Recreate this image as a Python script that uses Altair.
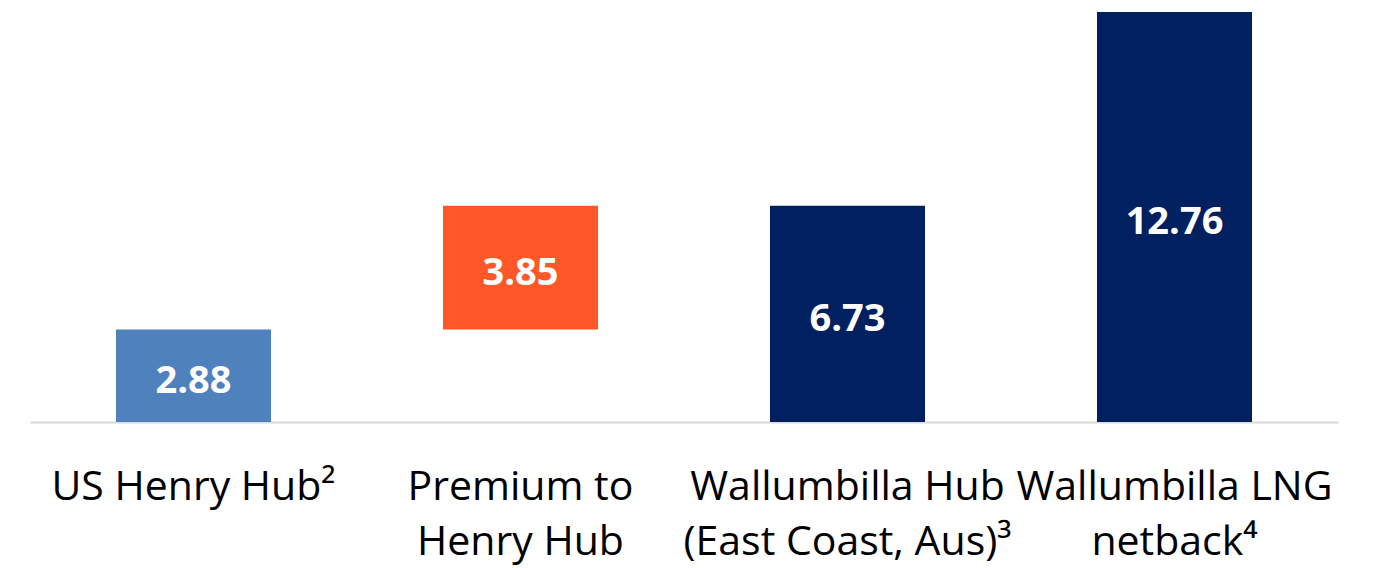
import altair as alt
import pandas as pd

categories = ["US Henry Hub²", "Premium to\nHenry Hub", "Wallumbilla Hub\n(East Coast, Aus)³", "Wallumbilla LNG\nnetback⁴"]
starts = [0.0, 2.88, 0.0, 0.0]
ends = [2.88, 6.73, 6.73, 12.76]
values = ["2.88", "3.85", "6.73", "12.76"]
colors = ["#4F81BD", "#FF5728", "#002060", "#002060"]

df = pd.DataFrame({"cat": categories, "start": starts, "end": ends, "label": values, "color": colors})

x = alt.X("cat:N", sort=None, title=None,
          scale=alt.Scale(paddingInner=0.526, paddingOuter=0.263),
          axis=alt.Axis(labelAngle=0, ticks=False, domainColor="#D9D9D9", domainWidth=2,
                        labelFont="Open Sans", labelFontSize=41, labelColor="#000000",
                        labelLineHeight=55, labelPadding=45, labelLimit=1000, labelOverlap=False,
                        labelExpr="split(datum.label, '\\n')"))
yscale = alt.Scale(domain=[0, 12.76], nice=False, zero=True)

base = alt.Chart(df).encode(x=x)

bars = base.mark_bar().encode(
    y=alt.Y("start:Q", scale=yscale, axis=None),
    y2="end:Q",
    color=alt.Color("color:N", scale=None),
)

text = base.transform_calculate(mid="(datum.start + datum.end) / 2").mark_text(
    font="Open Sans", fontSize=38, fontWeight="bold", color="white", baseline="middle", dy=6
).encode(
    y=alt.Y("mid:Q", scale=yscale, axis=None),
    text="label:N",
)

chart = (bars + text).properties(
    width=1308, height=410,
    padding={"left": 22, "top": 4, "right": 10, "bottom": 152},
    autosize=alt.AutoSizeParams(type="none"),
).configure_view(stroke=None)

chart.save("out.html", embed_options={"renderer": "svg", "actions": False})
